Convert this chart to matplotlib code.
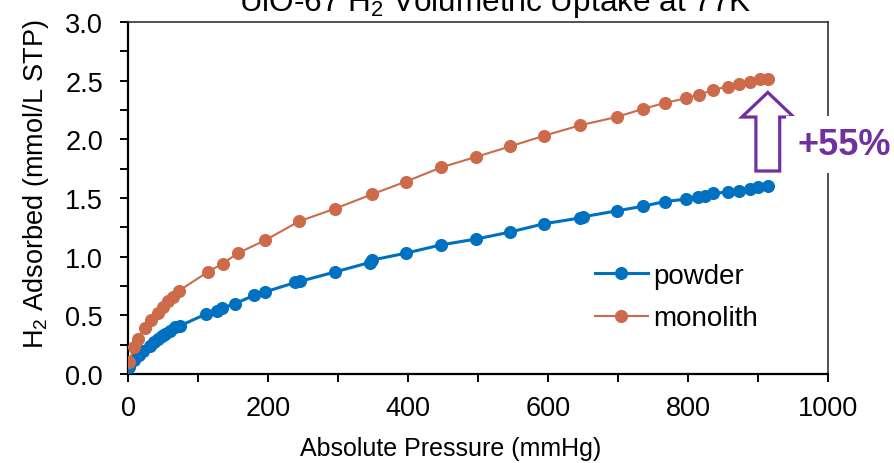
import matplotlib
matplotlib.use("Agg")
import matplotlib.pyplot as plt
from matplotlib.ticker import MultipleLocator
from matplotlib.patches import Polygon

plt.rcParams['font.family'] = ['Liberation Sans', 'DejaVu Sans']
plt.rcParams['mathtext.fontset'] = 'custom'
plt.rcParams['mathtext.rm'] = 'Liberation Sans'
plt.rcParams['mathtext.it'] = 'Liberation Sans:italic'
plt.rcParams['mathtext.bf'] = 'Liberation Sans:bold'

# ---- data ----
title = "UiO-67 H$_2$ Volumetric Uptake at 77K"
xlabel = "Absolute Pressure (mmHg)"
ylabel = "H$_2$ Adsorbed (mmol/L STP)"
series_names = ["powder", "monolith"]
annotation_text = "+55%"

powder_p = [2, 8, 15, 22, 31, 37, 43, 48, 53, 60, 67, 74, 111, 127, 134, 153, 180, 196,
            239, 246, 296, 345, 348, 397, 447, 497, 546, 594, 646, 650, 698, 736, 767,
            797, 814, 824, 835, 857, 873, 889, 900, 914]
powder_v = [0.06, 0.12, 0.16, 0.20, 0.24, 0.27, 0.30, 0.32, 0.34, 0.37, 0.40, 0.41, 0.51,
            0.54, 0.56, 0.60, 0.67, 0.70, 0.78, 0.79, 0.87, 0.95, 0.97, 1.03, 1.10, 1.15,
            1.21, 1.28, 1.33, 1.34, 1.39, 1.43, 1.47, 1.49, 1.51, 1.52, 1.54, 1.55, 1.56,
            1.58, 1.59, 1.60]

mono_p = [2, 8, 14, 24, 33, 43, 50, 57, 64, 73, 114, 135, 157, 196, 244, 296, 348, 397,
          447, 497, 546, 594, 646, 698, 736, 767, 797, 816, 835, 857, 873, 889, 903, 914]
mono_v = [0.10, 0.23, 0.30, 0.39, 0.46, 0.52, 0.57, 0.62, 0.66, 0.71, 0.87, 0.94, 1.03,
          1.14, 1.30, 1.41, 1.53, 1.64, 1.76, 1.85, 1.94, 2.03, 2.12, 2.19, 2.26, 2.31,
          2.35, 2.38, 2.42, 2.45, 2.47, 2.49, 2.51, 2.51]

blue = '#0070C0'
orange = '#CC6A4A'
purple = '#7030A0'

W, H = 894, 464
fig = plt.figure(figsize=(W / 100, H / 100), dpi=100)
ax = fig.add_axes([128 / W, 1 - 375 / H, 700 / W, 352 / H])

ax.plot(powder_p, powder_v, color=blue, lw=2.2, marker='o', ms=8.4,
        label=series_names[0], zorder=3)
ax.plot(mono_p, mono_v, color=orange, lw=1.5, marker='o', ms=8.4,
        label=series_names[1], zorder=3)

ax.set_xlim(0, 1000)
ax.set_ylim(0, 3.0)
ax.xaxis.set_major_locator(MultipleLocator(200))
ax.xaxis.set_minor_locator(MultipleLocator(100))
ax.yaxis.set_major_locator(MultipleLocator(0.5))
ax.yaxis.set_minor_locator(MultipleLocator(0.25))
ax.yaxis.set_major_formatter(matplotlib.ticker.FormatStrFormatter('%.1f'))

ax.tick_params(which='both', direction='out', length=6, width=1.4, color='black')
ax.tick_params(axis='x', which='major', labelsize=19.5, pad=9)
ax.tick_params(axis='y', which='major', labelsize=19.5, pad=12)

for s in ['left', 'bottom']:
    ax.spines[s].set_linewidth(1.6)
    ax.spines[s].set_color('black')
for s in ['top', 'right']:
    ax.spines[s].set_linewidth(1.2)
    ax.spines[s].set_color('#333333')

ax.set_xlabel(xlabel, fontsize=18, va='center', ha='center')
ax.xaxis.set_label_coords(0.461, -0.21)
ax.set_ylabel(ylabel, fontsize=19.5, va='center', ha='center')
ax.yaxis.set_label_coords(-0.131, 0.543)

fig.text(495 / W, 1 - 11 / H, title, fontsize=22.7, ha='center', va='baseline')

leg = ax.legend(loc='center left', bbox_to_anchor=(595 / W, 1 - 298 / H),
                bbox_transform=fig.transFigure, frameon=False, fontsize=20,
                handlelength=1.9, handletextpad=0.2, labelspacing=0.6,
                borderpad=0, borderaxespad=0)

# hollow up arrow between the two end points
xa = powder_p[-1]
y_bot = powder_v[-1] + 0.13
y_tip = mono_v[-1] - 0.11
y_head = y_tip - 0.21
hw, sw = 37, 17
arrow = Polygon([(xa - sw, y_bot), (xa + sw, y_bot), (xa + sw, y_head),
                 (xa + hw, y_head), (xa, y_tip), (xa - hw, y_head),
                 (xa - sw, y_head)], closed=True, facecolor='white',
                edgecolor=purple, lw=2.3, zorder=4, clip_on=False)
ax.add_patch(arrow)

ax.text(xa + 42, (powder_v[-1] + mono_v[-1]) / 2 - 0.1, annotation_text,
        color=purple, fontsize=26, fontweight='bold', ha='left', va='center',
        bbox=dict(boxstyle='square,pad=0.3', facecolor='white', edgecolor='none'),
        zorder=6, clip_on=False)

fig.savefig('out.png', dpi=100)
